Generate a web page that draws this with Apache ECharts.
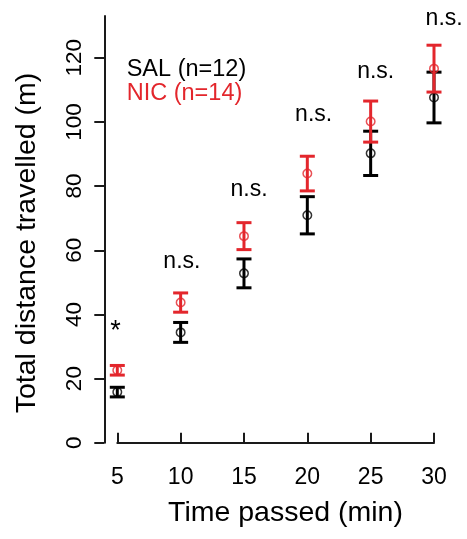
<!DOCTYPE html>
<html>
<head>
<meta charset="utf-8">
<script src="https://cdn.jsdelivr.net/npm/echarts@6/dist/echarts.min.js"></script>
<style>
  html, body { margin: 0; padding: 0; background: #fff; }
  #chart { width: 467px; height: 539px; }
</style>
</head>
<body>
<div id="chart"></div>
<script>
// Cumulative distance per time bin, mean ± SEM for each group
const minutes = [5, 10, 15, 20, 25, 30];
const salMean = [15.8, 34.4, 52.8, 70.9, 90.2, 107.6];
const salSem  = [1.5, 3.1, 4.5, 5.8, 6.9, 7.9];
const nicMean = [22.6, 43.7, 64.4, 83.9, 100.1, 116.6];
const nicSem  = [1.5, 3.0, 4.2, 5.4, 6.4, 7.3];

const groupNames = ['SAL (n=12)', 'NIC (n=14)'];
const yTicks = [0, 20, 40, 60, 80, 100, 120];
const xTicks = [5, 10, 15, 20, 25, 30];

// Significance marks placed above each time bin
const sigX    = [4.85, 10.1, 15.4, 20.5, 25.4, 30.8];
const sigY    = [34.6, 56.5, 78.8, 102.2, 115.7, 132.1];
const sigText = ['*', 'n.s.', 'n.s.', 'n.s.', 'n.s.', 'n.s.'];

const FONT = '"Liberation Sans", Arial, Helvetica, sans-serif';
const RED = '#e3262c';
const BLACK = '#000000';
const AXIS = '#1a1a1a';

function errorBarSeries(mean, sem, color, z) {
  return {
    type: 'custom',
    z: z,
    clip: false,
    data: minutes.map((m, i) => [m, mean[i] - sem[i], mean[i] + sem[i]]),
    encode: { x: 0, y: [1, 2] },
    renderItem: function (params, api) {
      const x = api.value(0);
      const lo = api.coord([x, api.value(1)]);
      const hi = api.coord([x, api.value(2)]);
      const hw = 7.5;
      const style = { stroke: color, lineWidth: 3, fill: null };
      return {
        type: 'group',
        children: [
          { type: 'line', shape: { x1: lo[0], y1: lo[1], x2: hi[0], y2: hi[1] }, style: style },
          { type: 'line', shape: { x1: lo[0] - hw, y1: lo[1], x2: lo[0] + hw, y2: lo[1] }, style: style },
          { type: 'line', shape: { x1: hi[0] - hw, y1: hi[1], x2: hi[0] + hw, y2: hi[1] }, style: style }
        ]
      };
    }
  };
}

function pointSeries(name, mean, color, z) {
  return {
    name: name,
    type: 'scatter',
    z: z,
    symbol: 'circle',
    symbolSize: 8.5,
    data: minutes.map((m, i) => [m, mean[i]]),
    itemStyle: { color: 'rgba(0,0,0,0)', borderColor: color, borderWidth: 1.5 },
    emphasis: { disabled: true }
  };
}

const chart = echarts.init(document.getElementById('chart'), null, { renderer: 'canvas' });

chart.setOption({
  animation: false,
  backgroundColor: '#ffffff',
  grid: { left: 117.3, right: 33, top: 16, bottom: 96.2, outerBoundsMode: 'none', containLabel: false },
  xAxis: {
    type: 'value',
    min: 5,
    max: 30,
    interval: 5,
    offset: 15,
    axisLine: { show: true, lineStyle: { color: AXIS, width: 2 } },
    axisTick: { show: true, inside: true, length: 10, customValues: xTicks, lineStyle: { color: AXIS, width: 2 } },
    axisLabel: { customValues: xTicks, margin: 8.5, fontSize: 23, color: BLACK, fontFamily: FONT },
    splitLine: { show: false }
  },
  yAxis: {
    type: 'value',
    min: 0,
    max: 133,
    offset: 13,
    axisLine: { show: true, lineStyle: { color: AXIS, width: 2 } },
    axisTick: { show: true, length: 10, customValues: yTicks, lineStyle: { color: AXIS, width: 2 } },
    axisLabel: { customValues: yTicks, rotate: 90, margin: 18.5, fontSize: 22.5, color: BLACK, fontFamily: FONT },
    splitLine: { show: false }
  },
  graphic: [
    {
      type: 'text', x: 285.5, y: 513.5, silent: true,
      style: { text: 'Time passed (min)', align: 'center', verticalAlign: 'middle', fill: BLACK, font: '28.5px ' + FONT }
    },
    {
      type: 'text', x: 26.7, y: 243, rotation: Math.PI / 2, silent: true,
      style: { text: 'Total distance travelled (m)', align: 'center', verticalAlign: 'middle', fill: BLACK, font: '28.5px ' + FONT }
    },
    {
      type: 'text', x: 126.7, y: 70, silent: true,
      style: { text: groupNames[0], align: 'left', verticalAlign: 'middle', fill: BLACK, font: '23.5px ' + FONT }
    },
    {
      type: 'text', x: 126.7, y: 93.3, silent: true,
      style: { text: groupNames[1], align: 'left', verticalAlign: 'middle', fill: RED, font: '23.5px ' + FONT }
    }
  ],
  series: [
    errorBarSeries(salMean, salSem, BLACK, 2),
    pointSeries(groupNames[0], salMean, BLACK, 3),
    errorBarSeries(nicMean, nicSem, RED, 4),
    pointSeries(groupNames[1], nicMean, RED, 5),
    {
      type: 'custom',
      z: 6,
      clip: false,
      data: sigX.map((x, i) => [x, sigY[i], i]),
      encode: { x: 0, y: 1 },
      renderItem: function (params, api) {
        const p = api.coord([api.value(0), api.value(1)]);
        const txt = sigText[api.value(2)];
        return {
          type: 'text',
          x: p[0], y: p[1],
          style: {
            text: txt,
            align: 'center', verticalAlign: 'middle',
            fill: BLACK, font: (txt === '*' ? '27px ' : '23px ') + FONT
          }
        };
      }
    }
  ]
});
</script>
</body>
</html>
